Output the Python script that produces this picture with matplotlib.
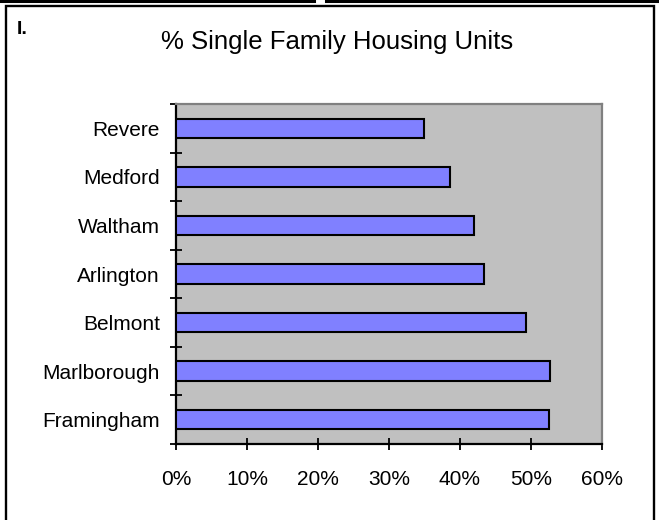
import matplotlib
matplotlib.use("Agg")
import matplotlib.pyplot as plt
from matplotlib.patches import Rectangle
from matplotlib.lines import Line2D
from matplotlib.ticker import FixedLocator, PercentFormatter

plt.rcParams['font.family'] = ['Liberation Sans', 'DejaVu Sans']

towns = ["Framingham", "Marlborough", "Belmont", "Arlington", "Waltham", "Medford", "Revere"]
single_family_pct = [52.6, 52.7, 49.3, 43.4, 42.0, 38.6, 35.0]
x_ticks = [0, 10, 20, 30, 40, 50, 60]

W, H = 659, 520
fig = plt.figure(figsize=(W / 100, H / 100), dpi=100)
fig.patch.set_facecolor("white")

def fx(px):
    return px / W

def fy(py):
    return 1 - py / H

# page frame and rules above it
fig.add_artist(Rectangle((fx(6), fy(540)), fx(648), fy(6.5) - fy(540), transform=fig.transFigure,
                         fill=False, edgecolor="black", linewidth=1.7))
fig.add_artist(Line2D([fx(0), fx(314)], [fy(1.2), fy(1.2)], transform=fig.transFigure,
                      color="black", linewidth=2.2))
fig.add_artist(Line2D([fx(326), fx(659)], [fy(1.2), fy(1.2)], transform=fig.transFigure,
                      color="black", linewidth=2.2))

fig.text(fx(17), fy(29), "I.", fontsize=14, fontweight="bold", ha="left", va="center")
fig.text(fx(337), fy(42), "% Single Family Housing Units", fontsize=18.5, ha="center", va="center")

ax = fig.add_axes([fx(176), fy(444), fx(602) - fx(176), fy(104) - fy(444)])
ax.set_facecolor("#C0C0C0")

y = list(range(len(towns)))
ax.barh(y, single_family_pct, height=0.4, color="#8080FF", edgecolor="black", linewidth=1.5, zorder=3)

ax.set_xlim(0, 60)
ax.set_ylim(-0.5, len(towns) - 0.5)
ax.xaxis.set_major_locator(FixedLocator(x_ticks))
ax.xaxis.set_major_formatter(PercentFormatter(decimals=0))

ax.set_yticks(y)
ax.set_yticklabels(towns)
ax.yaxis.set_minor_locator(FixedLocator([i - 0.5 for i in range(len(towns) + 1)]))
ax.tick_params(axis="y", which="major", length=0, pad=11.5, labelsize=15)
ax.tick_params(axis="y", which="minor", direction="inout", length=9, width=1.3, color="black")
ax.tick_params(axis="x", which="major", direction="inout", length=9, width=1.3, color="black",
               pad=14, labelsize=15)

for side in ("left", "bottom"):
    ax.spines[side].set_color("black")
    ax.spines[side].set_linewidth(1.6)
for side in ("top", "right"):
    ax.spines[side].set_color("#808080")
    ax.spines[side].set_linewidth(1.6)

fig.savefig("out.png", dpi=100)
